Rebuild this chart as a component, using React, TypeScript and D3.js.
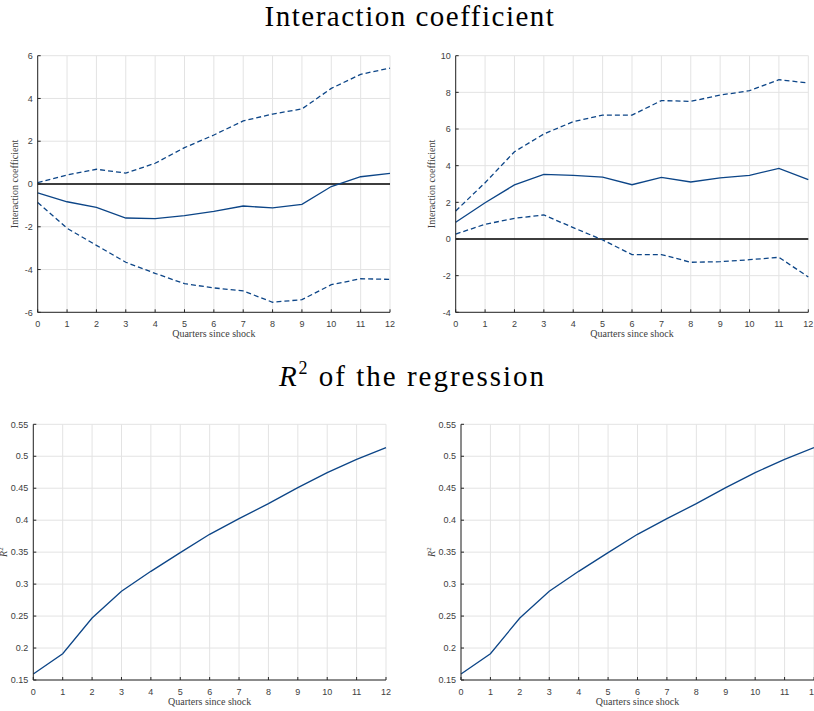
import React from "react";
import * as d3 from "d3";

const quarters = [0, 1, 2, 3, 4, 5, 6, 7, 8, 9, 10, 11, 12];

// Top-left panel
const tlCoef = [-0.41, -0.83, -1.09, -1.59, -1.62, -1.48, -1.28, -1.03, -1.12, -0.95, -0.12, 0.34, 0.5];
const tlUpper = [0.06, 0.42, 0.69, 0.51, 0.97, 1.7, 2.29, 2.95, 3.27, 3.51, 4.47, 5.13, 5.42];
const tlLower = [-0.86, -2.07, -2.87, -3.66, -4.18, -4.66, -4.86, -5.0, -5.53, -5.41, -4.71, -4.43, -4.46];
const tlTicks = [-6, -4, -2, 0, 2, 4, 6];

// Top-right panel
const trCoef = [0.91, 1.98, 2.95, 3.53, 3.47, 3.38, 2.96, 3.36, 3.11, 3.33, 3.47, 3.85, 3.24];
const trUpper = [1.53, 3.07, 4.76, 5.73, 6.4, 6.76, 6.76, 7.55, 7.51, 7.85, 8.09, 8.69, 8.51];
const trLower = [0.27, 0.8, 1.13, 1.31, 0.62, -0.05, -0.85, -0.85, -1.27, -1.24, -1.13, -1.0, -2.07];
const trTicks = [-4, -2, 0, 2, 4, 6, 8, 10];

// Bottom panels (R^2)
const r2Left = [0.1594, 0.1912, 0.247, 0.2887, 0.32, 0.3492, 0.3779, 0.4024, 0.4259, 0.4509, 0.4744, 0.4952, 0.5135];
const r2Right = [0.1594, 0.1912, 0.247, 0.2887, 0.32, 0.3492, 0.3779, 0.4024, 0.4259, 0.4509, 0.4744, 0.4952, 0.5135];
const r2Ticks = [0.15, 0.2, 0.25, 0.3, 0.35, 0.4, 0.45, 0.5, 0.55];

const LINE = "#0c4587";
const GRID = "#e3e3e3";
const AXIS = "#262626";
const TICKTXT = "#404040";
const SERIF = "'Liberation Serif', 'Times New Roman', serif";
const SANS = "'Liberation Sans', Arial, sans-serif";

type PanelProps = {
  x0: number; x1: number; yTop: number; yBot: number;
  domain: [number, number];
  yTicks: number[];
  series: { values: number[]; dashed: boolean }[];
  zeroLine: boolean;
  yLabel: React.ReactNode;
  yLabelX: number;
};

function Panel(p: PanelProps) {
  const x = d3.scaleLinear().domain([0, 12]).range([p.x0, p.x1]);
  const y = d3.scaleLinear().domain(p.domain).range([p.yBot, p.yTop]);
  const line = d3.line<number>().x((_, i) => x(quarters[i])).y((d) => y(d));
  const fmt = (v: number) => String(+v.toFixed(2));
  const midY = (p.yTop + p.yBot) / 2;
  return (
    <g>
      {quarters.map((q) => (
        <line key={"gx" + q} x1={x(q)} x2={x(q)} y1={p.yTop} y2={p.yBot} stroke={GRID} strokeWidth={1} />
      ))}
      {p.yTicks.map((t) => (
        <line key={"gy" + t} x1={p.x0} x2={p.x1} y1={y(t)} y2={y(t)} stroke={GRID} strokeWidth={1} />
      ))}
      {p.zeroLine && (
        <line x1={p.x0} x2={p.x1} y1={y(0)} y2={y(0)} stroke="#000" strokeWidth={1.5} />
      )}
      {p.series.map((s, i) => (
        <path key={i} d={line(s.values) || ""} fill="none" stroke={LINE} strokeWidth={1.3}
          strokeDasharray={s.dashed ? "5,3" : undefined} />
      ))}
      <line x1={p.x0} x2={p.x0} y1={p.yTop} y2={p.yBot} stroke={AXIS} strokeWidth={1} />
      <line x1={p.x0} x2={p.x1} y1={p.yBot} y2={p.yBot} stroke={AXIS} strokeWidth={1} />
      {quarters.map((q) => (
        <g key={"tx" + q}>
          <line x1={x(q)} x2={x(q)} y1={p.yBot} y2={p.yBot - 3} stroke={AXIS} strokeWidth={1} />
          <text x={x(q)} y={p.yBot + 14.5} textAnchor="middle" fontFamily={SANS} fontSize={9} fill={TICKTXT}>{q}</text>
        </g>
      ))}
      {p.yTicks.map((t) => (
        <g key={"ty" + t}>
          <line x1={p.x0} x2={p.x0 + 3} y1={y(t)} y2={y(t)} stroke={AXIS} strokeWidth={1} />
          <text x={p.x0 - 5} y={y(t) + 3.2} textAnchor="end" fontFamily={SANS} fontSize={9} fill={TICKTXT}>{fmt(t)}</text>
        </g>
      ))}
      <text x={(p.x0 + p.x1) / 2} y={p.yBot + 25} textAnchor="middle" fontFamily={SERIF} fontSize={10} fill={TICKTXT}>
        Quarters since shock
      </text>
      <text transform={`translate(${p.yLabelX},${midY}) rotate(-90)`} textAnchor="middle" fontFamily={SERIF} fontSize={10} fill={TICKTXT}>
        {p.yLabel}
      </text>
    </g>
  );
}

export default function App() {
  return (
    <svg width={814} height={711} style={{ position: "absolute", left: 0, top: 0, background: "#fff" }}>
      <rect width={814} height={711} fill="#fff" />
      <text x={410} y={26} textAnchor="middle" fontFamily={SERIF} fontSize={29} fill="#000" letterSpacing={1.5}>
        Interaction coefficient
      </text>
      <text x={412.5} y={386} textAnchor="middle" fontFamily={SERIF} fontSize={29} fill="#000" letterSpacing={2}>
        <tspan fontStyle="italic">R</tspan>
        <tspan fontSize={18} dy={-12}>2</tspan>
        <tspan dy={12}> of the regression</tspan>
      </text>
      <Panel x0={37.7} x1={390} yTop={55.7} yBot={312.3} domain={[-6, 6]} yTicks={tlTicks}
        series={[{ values: tlUpper, dashed: true }, { values: tlLower, dashed: true }, { values: tlCoef, dashed: false }]}
        zeroLine={true} yLabel="Interaction coefficient" yLabelX={18} />
      <Panel x0={455.7} x1={808.3} yTop={55.7} yBot={312.3} domain={[-4, 10]} yTicks={trTicks}
        series={[{ values: trUpper, dashed: true }, { values: trLower, dashed: true }, { values: trCoef, dashed: false }]}
        zeroLine={true} yLabel="Interaction coefficient" yLabelX={435} />
      <Panel x0={33.3} x1={386} yTop={424.3} yBot={680} domain={[0.15, 0.55]} yTicks={r2Ticks}
        series={[{ values: r2Left, dashed: false }]}
        zeroLine={false}
        yLabel={<><tspan fontStyle="italic">R</tspan><tspan fontSize={7} dy={-4}>2</tspan></>} yLabelX={7} />
      <Panel x0={461} x1={814} yTop={424.3} yBot={680} domain={[0.15, 0.55]} yTicks={r2Ticks}
        series={[{ values: r2Right, dashed: false }]}
        zeroLine={false}
        yLabel={<><tspan fontStyle="italic">R</tspan><tspan fontSize={7} dy={-4}>2</tspan></>} yLabelX={435} />
    </svg>
  );
}
